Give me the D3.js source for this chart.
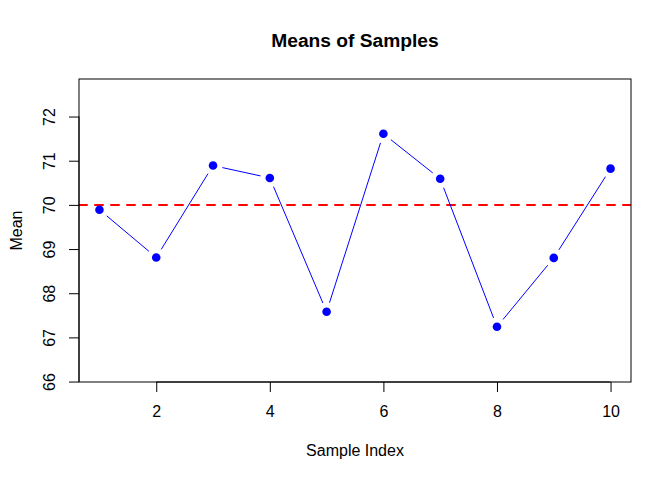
<!DOCTYPE html>
<html>
<head>
<meta charset="utf-8">
<script src="https://cdn.jsdelivr.net/npm/d3@7"></script>
<style>
  html, body { margin: 0; padding: 0; background: #fff; }
  svg { display: block; font-family: "Liberation Sans", Arial, Helvetica, sans-serif; }
</style>
</head>
<body>
<svg id="chart" width="672" height="480"></svg>
<script>
const sampleIndex = [1, 2, 3, 4, 5, 6, 7, 8, 9, 10];
const sampleMeans = [69.89, 68.81, 70.89, 70.61, 67.58, 71.61, 70.59, 67.24, 68.80, 70.82];
const referenceMean = 70;
const xTicks = [2, 4, 6, 8, 10];
const yTicks = [66, 67, 68, 69, 70, 71, 72];
const titleText = "Means of Samples";
const xLabel = "Sample Index";
const yLabel = "Mean";

const svg = d3.select("#chart");
const plot = { left: 79, right: 631, top: 79, bottom: 382 };

const x = d3.scaleLinear().domain([0.64, 10.36]).range([plot.left, plot.right]);
const y = d3.scaleLinear().domain([65.99, 72.85]).range([plot.bottom, plot.top]);

// clip
svg.append("defs").append("clipPath").attr("id", "clip")
  .append("rect").attr("x", plot.left).attr("y", plot.top)
  .attr("width", plot.right - plot.left).attr("height", plot.bottom - plot.top);

// reference line
svg.append("line")
  .attr("clip-path", "url(#clip)")
  .attr("x1", plot.left).attr("x2", plot.right)
  .attr("y1", y(referenceMean)).attr("y2", y(referenceMean))
  .attr("stroke", "#ff0000").attr("stroke-width", 2)
  .attr("stroke-dasharray", "8,8").attr("stroke-linecap", "round");

// line segments with gaps (type = "b")
const pts = sampleIndex.map((d, i) => [x(d), y(sampleMeans[i])]);
const gap = 9.5;
const segs = d3.pairs(pts).map(([a, b]) => {
  const dx = b[0] - a[0], dy = b[1] - a[1];
  const L = Math.hypot(dx, dy);
  const ux = dx / L, uy = dy / L;
  return [a[0] + ux * gap, a[1] + uy * gap, b[0] - ux * gap, b[1] - uy * gap];
});
svg.append("g").selectAll("line").data(segs).join("line")
  .attr("x1", d => d[0]).attr("y1", d => d[1])
  .attr("x2", d => d[2]).attr("y2", d => d[3])
  .attr("stroke", "#0000ff").attr("stroke-width", 1);

// points
svg.append("g").selectAll("circle").data(sampleIndex).join("circle")
  .attr("cx", d => x(d)).attr("cy", (d, i) => y(sampleMeans[i]))
  .attr("r", 4.3).attr("fill", "#0000ff");

// box
svg.append("rect")
  .attr("x", plot.left).attr("y", plot.top)
  .attr("width", plot.right - plot.left).attr("height", plot.bottom - plot.top)
  .attr("fill", "none").attr("stroke", "#000").attr("stroke-width", 1);

// x axis
const xAxis = d3.axisBottom(x).tickValues(xTicks).tickSize(10).tickPadding(14).tickFormat(d3.format("d"));
const gx = svg.append("g").attr("transform", `translate(0,${plot.bottom})`).call(xAxis);
gx.select(".domain").attr("d", `M${x(xTicks[0])},0H${x(xTicks[xTicks.length - 1])}`).attr("stroke", "#000");
gx.selectAll(".tick line").attr("stroke", "#000");
gx.selectAll(".tick text").attr("font-size", 16).attr("fill", "#000")
  .attr("dy", null).attr("y", 35);

// y axis
const yAxis = d3.axisLeft(y).tickValues(yTicks).tickSize(10).tickFormat(d3.format("d"));
const gy = svg.append("g").attr("transform", `translate(${plot.left},0)`).call(yAxis);
gy.select(".domain").attr("d", `M0,${y(yTicks[0])}V${y(yTicks[yTicks.length - 1])}`).attr("stroke", "#000");
gy.selectAll(".tick line").attr("stroke", "#000");
gy.selectAll(".tick text").attr("font-size", 16).attr("fill", "#000")
  .attr("x", null).attr("dy", null)
  .attr("text-anchor", "middle")
  .attr("transform", "translate(-24,0) rotate(-90)");

// title
svg.append("text").attr("x", (plot.left + plot.right) / 2).attr("y", 47)
  .attr("text-anchor", "middle").attr("font-size", 19.2).attr("font-weight", "bold")
  .text(titleText);

// axis labels
svg.append("text").attr("x", (plot.left + plot.right) / 2).attr("y", 456)
  .attr("text-anchor", "middle").attr("font-size", 16).text(xLabel);
svg.append("text")
  .attr("transform", `translate(21.7,${(plot.top + plot.bottom) / 2}) rotate(-90)`)
  .attr("text-anchor", "middle").attr("font-size", 16).text(yLabel);
</script>
</body>
</html>
